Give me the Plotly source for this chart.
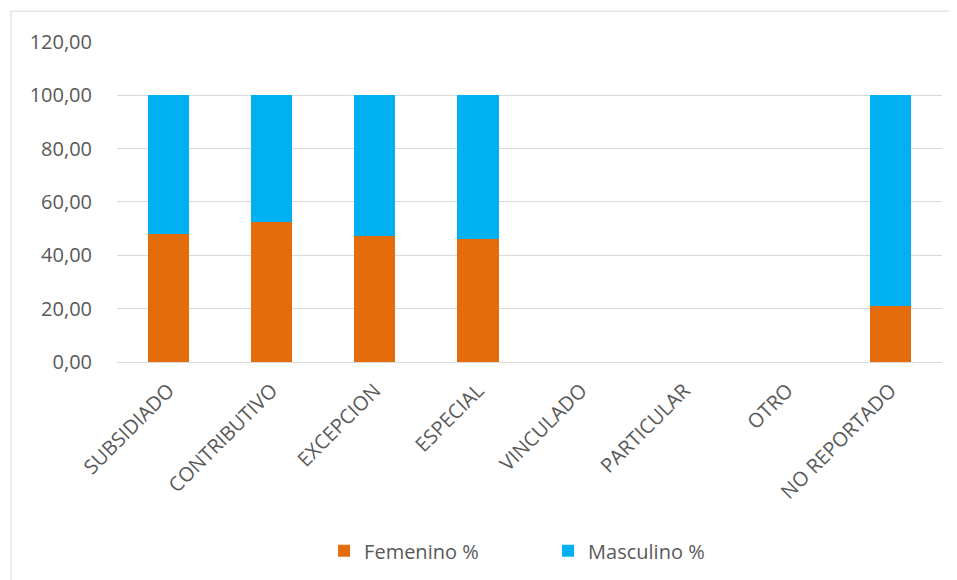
import plotly.graph_objects as go

categories = ["SUBSIDIADO", "CONTRIBUTIVO", "EXCEPCION", "ESPECIAL",
              "VINCULADO", "PARTICULAR", "OTRO", "NO REPORTADO"]
femenino = [48.1, 52.4, 47.4, 46.0, 0, 0, 0, 21.1]
masculino = [51.9, 47.6, 52.6, 54.0, 0, 0, 0, 78.9]
y_ticks = [0, 20, 40, 60, 80, 100, 120]
y_tick_labels = ["0,00", "20,00", "40,00", "60,00", "80,00", "100,00", "120,00"]

FONT = "Open Sans"
TXT = "#595959"
BORDER = "#D9D9D9"

fig = go.Figure()
fig.add_trace(go.Bar(x=categories, y=femenino, name="Femenino %",
                     marker=dict(color="#E46C0A", line=dict(width=0)), width=0.4))
fig.add_trace(go.Bar(x=categories, y=masculino, name="Masculino %",
                     marker=dict(color="#00B0F0", line=dict(width=0)), width=0.4))

bx0, bx1, by0, by1 = -0.1285, 1.3, -0.75, 1.093
fig.update_layout(
    barmode="stack",
    width=957, height=580,
    margin=dict(l=109, r=23, t=33, b=226),
    paper_bgcolor="white", plot_bgcolor="white",
    font=dict(family=FONT, size=20, color=TXT),
    showlegend=True,
    legend=dict(orientation="h", x=0.251, xanchor="left", y=-0.588, yanchor="middle",
                entrywidth=179, entrywidthmode="pixels",
                font=dict(family=FONT, size=20, color=TXT), traceorder="normal"),
    xaxis=dict(tickangle=-45, showgrid=False, showline=True, linecolor=BORDER,
               ticks="outside", ticklen=8, tickcolor="rgba(0,0,0,0)",
               tickfont=dict(family=FONT, size=20, color=TXT),
               range=[-0.5, 7.5], automargin=False),
    yaxis=dict(range=[0, 120.3], tickvals=y_ticks, ticktext=y_tick_labels,
               showgrid=True, gridcolor=BORDER, gridwidth=1, zeroline=False,
               showline=False, ticks="outside", ticklen=20, tickcolor="rgba(0,0,0,0)",
               tickfont=dict(family=FONT, size=20, color=TXT), automargin=False),
    shapes=[
        dict(type="line", xref="paper", yref="paper", x0=bx0, x1=bx0, y0=by0, y1=by1,
             line=dict(color=BORDER, width=1), layer="below"),
        dict(type="line", xref="paper", yref="paper", x0=bx0, x1=bx1, y0=by1, y1=by1,
             line=dict(color=BORDER, width=1), layer="below"),
    ],
)

fig.write_html("out.html")
